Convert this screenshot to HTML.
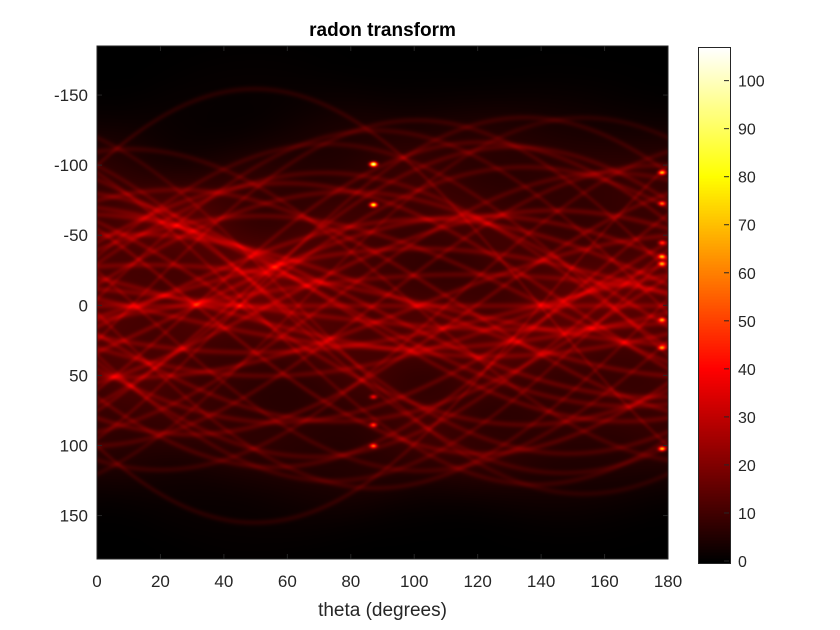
<!DOCTYPE html>
<html><head><meta charset="utf-8"><style>
body{margin:0;background:#fff;width:840px;height:630px;overflow:hidden;font-family:"Liberation Sans",sans-serif}
.t{position:absolute;font-size:17px;color:#262626}
</style></head><body>
<div style="position:relative;width:840px;height:630px">
<div class="t" style="left:0;width:765px;text-align:center;top:20px;font-weight:bold;font-size:19px;color:#000">radon transform</div>
<canvas id="hm" width="571" height="513" style="position:absolute;left:97px;top:46px"></canvas>
<canvas id="cb" width="31" height="515" style="position:absolute;left:698px;top:47px;border:1px solid #262626;box-sizing:border-box"></canvas>
<svg id="ax" width="840" height="630" style="position:absolute;left:0;top:0"></svg>
<div class="t" style="left:97px;width:571px;text-align:center;top:600px;font-size:19px">theta (degrees)</div>
</div>
<script>
const xTicks=[0,20,40,60,80,100,120,140,160,180];
const yTicks=[-150,-100,-50,0,50,100,150];
const cTicks=[0,10,20,30,40,50,60,70,80,90,100];
const srcX=[0,10,-20,30,-40,50,-60,70,-80,90,20,-30,40,-50,60,-70,80,-90,15,-15,35,-35,55,-55,100,-100,5,-5,25,-25,110,-110,45,-45,75,-75,65,-65,95,-95,-100,100,120,-120,-5,8,-12,22,-28,33];
const srcY=[0,-20,30,40,-50,10,60,-70,20,-30,80,-90,100,-10,-100,15,45,55,-60,-80,120,-110,-40,90,-5,65,130,-125,-130,115,40,-20,70,-75,-85,-35,95,5,-95,85,-118,118,-60,60,30,-40,12,25,-8,-55];
const srcA=[9,8,9,8,8,9,8,7,8,7,8,7,7,9,7,8,8,7,9,8,6,6,9,8,7,6,6,6,6,6,6,6,8,8,7,8,7,9,6,6,6,6,5,5,9,9,9,9,9,9];
const spotT=[87,87,178,178,178,178,178,178,178,87,87,87,178];
const spotP=[-101,-72,-95,-73,-35,-30,10,30,102,100,85,65,-45];
const spotV=[95,75,60,45,50,45,50,45,60,45,40,30,35];
const th0=0,th1=180,p0=-185,p1=181;
const W=571,H=513;
function xs(t){return 97+(t-th0)/(th1-th0)*W}
function ys(p){return 46+(p-p0)/(p1-p0)*H}
function hot(v){v=Math.max(0,Math.min(1,v));const r=Math.min(1,v/0.375),g=Math.max(0,Math.min(1,(v-0.375)/0.375)),b=Math.max(0,Math.min(1,(v-0.75)/0.25));return[r*255,g*255,b*255]}
const vmax=107;
const c=document.getElementById('hm').getContext('2d');
const img=c.createImageData(W,H);
const buf=new Float32Array(W*H);
for(let col=0;col<W;col++){
 const th=(col+0.5)/W*180*Math.PI/180,co=Math.cos(th),si=Math.sin(th);
 for(let k=0;k<srcX.length;k++){
  const pc=srcX[k]*co+srcY[k]*si;
  const rc=(pc-p0)/(p1-p0)*H;
  const r0=Math.max(0,Math.floor(rc-70)),r1=Math.min(H-1,Math.ceil(rc+70));
  for(let r=r0;r<=r1;r++){const d=r-rc;buf[r*W+col]+=srcA[k]*0.8*Math.exp(-d*d/10)+1.0*Math.exp(-d*d/1400);}
 }
}
for(let k=0;k<spotT.length;k++){
 const cx=(spotT[k]-th0)/(th1-th0)*W,cy=(spotP[k]-p0)/(p1-p0)*H;
 for(let r=Math.floor(cy-12);r<=cy+12;r++)for(let q=Math.floor(cx-14);q<=cx+14;q++){if(r<0||r>=H||q<0||q>=W)continue;const dx=q-cx,dy=r-cy;buf[r*W+q]+=spotV[k]*Math.exp(-(dx*dx/12+dy*dy/5));}
}
for(let i=0;i<W*H;i++){const [r,g,b]=hot(buf[i]/vmax);img.data[i*4]=r;img.data[i*4+1]=g;img.data[i*4+2]=b;img.data[i*4+3]=255;}
c.putImageData(img,0,0);
const cc=document.getElementById('cb').getContext('2d');
for(let y=0;y<515;y++){const [r,g,b]=hot(1-y/514);cc.fillStyle=`rgb(${r|0},${g|0},${b|0})`;cc.fillRect(0,y,31,1);}
const svg=document.getElementById('ax');const NS='http://www.w3.org/2000/svg';
function mk(t,a){const e=document.createElementNS(NS,t);for(const k in a)e.setAttribute(k,a[k]);svg.appendChild(e);return e}
const fr=mk('rect',{x:97,y:46,width:W,height:H,fill:'none',stroke:'#262626','stroke-width':1});


xTicks.forEach(t=>{const x=xs(t);mk('line',{x1:x,x2:x,y1:559,y2:554,stroke:'#262626'});mk('line',{x1:x,x2:x,y1:46,y2:51,stroke:'#262626'});
 const e=mk('text',{x:x,y:587,'text-anchor':'middle','font-size':17,fill:'#262626','font-family':'Liberation Sans'});e.textContent=t;
 
 });
yTicks.forEach(t=>{const y=ys(t);mk('line',{x1:97,x2:102,y1:y,y2:y,stroke:'#262626'});mk('line',{x1:668,x2:663,y1:y,y2:y,stroke:'#262626'});
 const e=mk('text',{x:88,y:y+6,'text-anchor':'end','font-size':17,fill:'#262626','font-family':'Liberation Sans'});e.textContent=t;
 
 });
cTicks.forEach(t=>{const y=561-t/vmax*514;mk('line',{x1:724,x2:729,y1:y,y2:y,stroke:'#262626'});
 const e=mk('text',{x:738,y:y+6,'font-size':16,fill:'#262626','font-family':'Liberation Sans'});e.textContent=t;
 
 });
</script></body></html>
